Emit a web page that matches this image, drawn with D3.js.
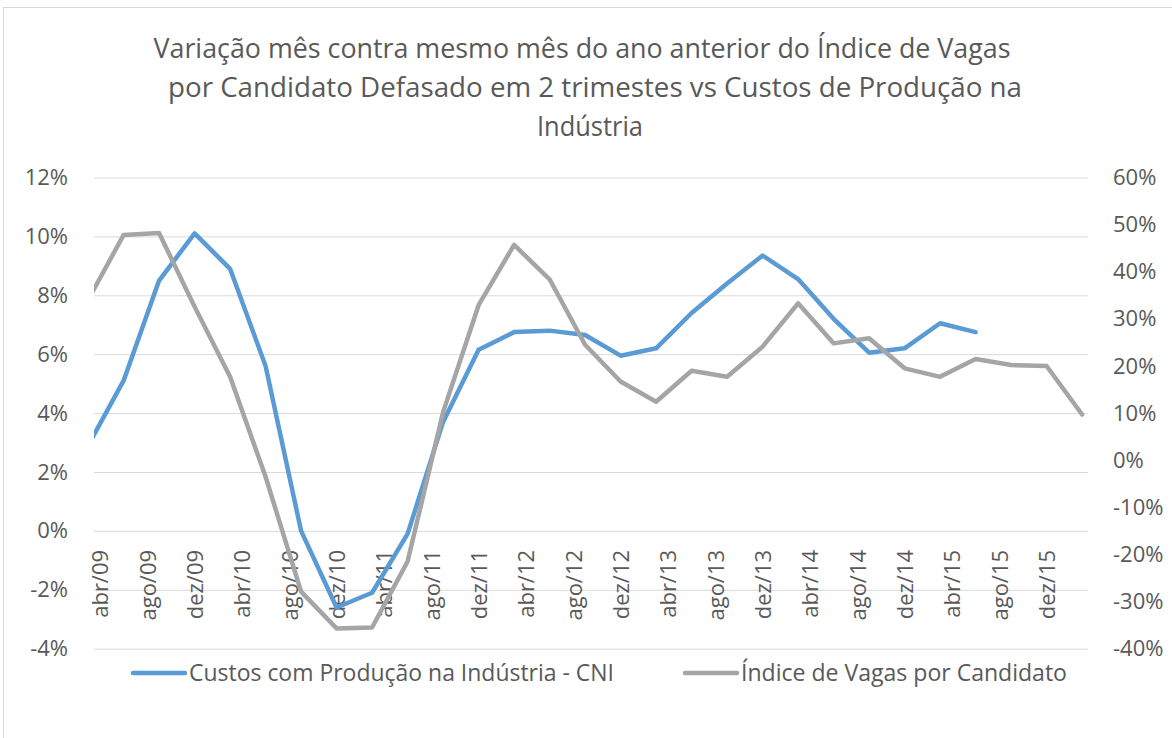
<!DOCTYPE html>
<html>
<head>
<meta charset="utf-8">
<script src="https://cdn.jsdelivr.net/npm/d3@7"></script>
<style>
    body { margin: 0; background: #fff; }
    svg { font-family: "Open Sans", sans-serif; }
    .grid line { stroke: #d9d9d9; stroke-width: 1; }
    .grid path, .axis path, .axis line { display: none; }
    .axis text { fill: #595959; font-size: 22px; font-family: "Open Sans", sans-serif; }
    .title { fill: #595959; font-size: 28px; }
    .legendText { fill: #595959; font-size: 23px; }
</style>
</head>
<body>
<script>
//wrap everything in an anonymous function so nothing is in global scope
(function () {

    //quarterly categories of the two series
    var dates = ["mar/09", "jun/09", "set/09", "dez/09", "mar/10", "jun/10", "set/10", "dez/10",
        "mar/11", "jun/11", "set/11", "dez/11", "mar/12", "jun/12", "set/12", "dez/12",
        "mar/13", "jun/13", "set/13", "dez/13", "mar/14", "jun/14", "set/14", "dez/14",
        "mar/15", "jun/15", "set/15", "dez/15", "mar/16"];

    //Custos com Producao na Industria - CNI (left axis, %)
    var custos = [2.9, 5.1, 8.5, 10.1, 8.9, 5.6, 0.0, -2.6,
        -2.1, -0.1, 3.7, 6.15, 6.75, 6.8, 6.65, 5.95,
        6.2, 7.4, 8.4, 9.35, 8.55, 7.2, 6.05, 6.2,
        7.05, 6.75, null, null, null];

    //Indice de Vagas por Candidato (right axis, %)
    var vagas = [34, 47.8, 48.2, 32.6, 17.7, -3.5, -27.9, -35.7,
        -35.5, -21.5, 10.2, 32.9, 45.7, 38.4, 24.5, 16.7,
        12.4, 19.0, 17.7, 24.1, 33.3, 24.8, 25.9, 19.5,
        17.7, 21.5, 20.2, 20.0, 9.7];

    //category axis labels, every 4 months
    var tickLabels = ["abr/09", "ago/09", "dez/09", "abr/10", "ago/10", "dez/10", "abr/11",
        "ago/11", "dez/11", "abr/12", "ago/12", "dez/12", "abr/13", "ago/13", "dez/13",
        "abr/14", "ago/14", "dez/14", "abr/15", "ago/15", "dez/15"];

    var leftTicks = [-4, -2, 0, 2, 4, 6, 8, 10, 12];
    var rightTicks = [-40, -30, -20, -10, 0, 10, 20, 30, 40, 50, 60];

    var titleLines = ["Variação mês contra mesmo mês do ano anterior do Índice de Vagas",
        "por Candidato Defasado em 2 trimestes vs Custos de Produção na",
        "Indústria"];

    var seriesNames = ["Custos com Produção na Indústria - CNI", "Índice de Vagas por Candidato"];
    var seriesColors = ["#5b9bd5", "#a5a5a5"];

    var monthNames = ["jan", "fev", "mar", "abr", "mai", "jun", "jul", "ago", "set", "out", "nov", "dez"];

    //turn "mmm/yy" into a month number counted from jan/09
    function monthIndex(label) {
        var parts = label.split("/");
        return (parseInt(parts[1]) - 9) * 12 + monthNames.indexOf(parts[0]);
    }

    window.onload = setChart();

    function setChart() {
        var width = 1172,
            height = 738,
            plotLeft = 94,
            plotRight = 1088,
            plotTop = 177.5,
            plotBottom = 648.7;

        var svg = d3.select("body")
            .append("svg")
            .attr("width", width)
            .attr("height", height);

        //chart border
        svg.append("rect")
            .attr("x", 3.5)
            .attr("y", 7.5)
            .attr("width", 1300)
            .attr("height", 900)
            .attr("fill", "none")
            .attr("stroke", "#d9d9d9");

        //axis runs half a month either side of abr/09 .. mar/16
        var x = d3.scaleLinear()
            .domain([monthIndex("abr/09") - 0.5, monthIndex("mar/16") + 0.5])
            .range([plotLeft, plotRight]);

        var yLeft = d3.scaleLinear()
            .domain([-4, 12])
            .range([plotBottom, plotTop]);

        var yRight = d3.scaleLinear()
            .domain([-40, 60])
            .range([plotBottom, plotTop]);

        //title
        svg.selectAll(".title")
            .data(titleLines)
            .enter()
            .append("text")
            .attr("class", "title")
            .attr("x", function (d, i) { return [582, 595, 590][i]; })
            .attr("y", function (d, i) { return 58 + i * 39; })
            .attr("text-anchor", "middle")
            .attr("textLength", function (d, i) { return [857, 854, 106][i]; })
            .attr("lengthAdjust", "spacingAndGlyphs")
            .text(function (d) { return d; });

        //horizontal gridlines
        svg.append("g")
            .attr("class", "grid")
            .attr("transform", "translate(" + plotLeft + ",0)")
            .call(d3.axisLeft(yLeft)
                .tickValues(leftTicks)
                .tickSize(-(plotRight - plotLeft))
                .tickFormat(""));

        //left axis
        svg.append("g")
            .attr("class", "axis")
            .attr("transform", "translate(" + plotLeft + ",0)")
            .call(d3.axisLeft(yLeft)
                .tickValues(leftTicks)
                .tickSize(0)
                .tickPadding(26)
                .tickFormat(function (d) { return d + "%"; }));

        //right axis
        svg.append("g")
            .attr("class", "axis")
            .attr("transform", "translate(" + plotRight + ",0)")
            .call(d3.axisRight(yRight)
                .tickValues(rightTicks)
                .tickSize(0)
                .tickPadding(25)
                .tickFormat(function (d) { return d + "%"; }));

        //category axis crossing at 0%
        var xAxis = svg.append("g")
            .attr("class", "axis")
            .attr("transform", "translate(0," + yLeft(0) + ")")
            .call(d3.axisBottom(x)
                .tickValues(tickLabels.map(monthIndex))
                .tickSize(0)
                .tickFormat(function (d, i) { return tickLabels[i]; }));

        xAxis.selectAll("text")
            .attr("transform", "rotate(-90)")
            .attr("x", -19)
            .attr("y", 0)
            .attr("dy", "0.36em")
            .style("text-anchor", "end");

        //clip lines to plot area
        svg.append("clipPath")
            .attr("id", "plotClip")
            .append("rect")
            .attr("x", plotLeft)
            .attr("y", 0)
            .attr("width", plotRight - plotLeft)
            .attr("height", height);

        var custosLine = d3.line()
            .defined(function (d) { return d != null; })
            .x(function (d, i) { return x(monthIndex(dates[i])); })
            .y(function (d) { return yLeft(d); });

        var vagasLine = d3.line()
            .x(function (d, i) { return x(monthIndex(dates[i])); })
            .y(function (d) { return yRight(d); });

        var lines = svg.append("g")
            .attr("clip-path", "url(#plotClip)");

        lines.append("path")
            .datum(custos)
            .attr("d", custosLine)
            .attr("fill", "none")
            .attr("stroke", seriesColors[0])
            .attr("stroke-width", 4.5)
            .attr("stroke-linejoin", "round")
            .attr("stroke-linecap", "round");

        lines.append("path")
            .datum(vagas)
            .attr("d", vagasLine)
            .attr("fill", "none")
            .attr("stroke", seriesColors[1])
            .attr("stroke-width", 4.5)
            .attr("stroke-linejoin", "round")
            .attr("stroke-linecap", "round");

        //legend
        var legendY = 673,
            legendX = [133, 685],
            legendTextLength = [425, 326];

        var legend = svg.selectAll(".legendItem")
            .data(seriesNames)
            .enter()
            .append("g")
            .attr("class", "legendItem")
            .attr("transform", function (d, i) { return "translate(" + legendX[i] + "," + legendY + ")"; });

        legend.append("line")
            .attr("x1", 0)
            .attr("x2", 52)
            .attr("stroke", function (d, i) { return seriesColors[i]; })
            .attr("stroke-width", 4.5)
            .attr("stroke-linecap", "round");

        legend.append("text")
            .attr("class", "legendText")
            .attr("x", 56)
            .attr("dy", "0.35em")
            .attr("textLength", function (d, i) { return legendTextLength[i]; })
            .attr("lengthAdjust", "spacingAndGlyphs")
            .text(function (d) { return d; });
    };

})();
</script>
</body>
</html>
